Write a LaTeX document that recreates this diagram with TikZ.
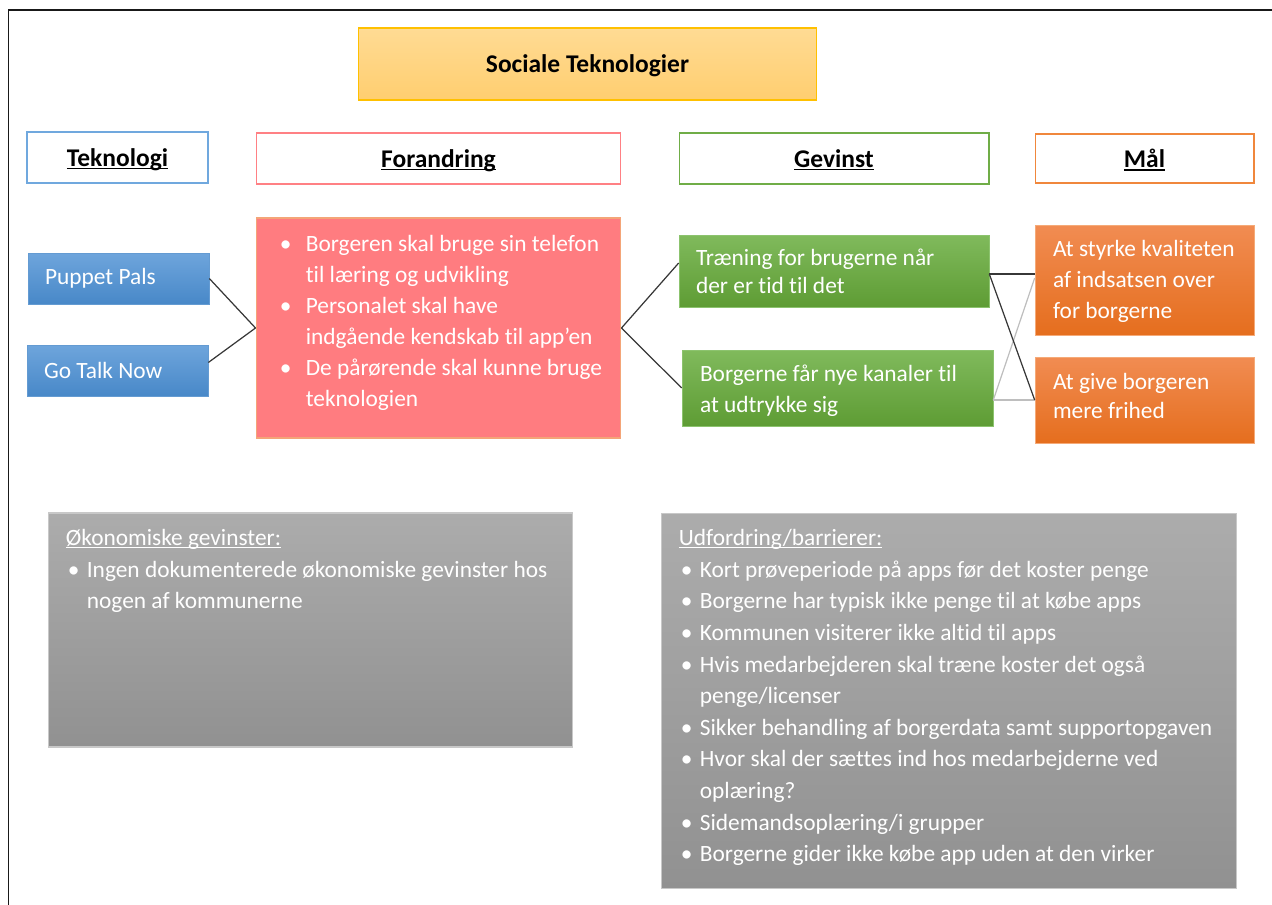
\documentclass[tikz,border=0pt]{standalone}
\usepackage{fontspec}
\setmainfont{Carlito}[Ligatures=NoCommon]
\usepackage{tikz}

\definecolor{titlebord}{RGB}{255,192,0}
\definecolor{titletop}{RGB}{255,219,148}
\definecolor{titlebot}{RGB}{255,206,112}
\definecolor{tekbord}{RGB}{112,168,222}
\definecolor{forbord}{RGB}{255,128,132}
\definecolor{gevbord}{RGB}{112,173,71}
\definecolor{malbord}{RGB}{240,135,60}
\definecolor{bluetop}{RGB}{110,165,220}
\definecolor{bluebot}{RGB}{72,136,200}
\definecolor{bluebord}{RGB}{100,155,210}
\definecolor{pinkfill}{RGB}{255,124,128}
\definecolor{pinkbord}{RGB}{244,165,120}
\definecolor{greentop}{RGB}{128,186,92}
\definecolor{greenbot}{RGB}{94,156,52}
\definecolor{greenbord}{RGB}{140,195,110}
\definecolor{orangetop}{RGB}{241,140,82}
\definecolor{orangebot}{RGB}{229,110,30}
\definecolor{orangebord}{RGB}{245,170,120}
\definecolor{graytop}{RGB}{172,172,172}
\definecolor{graybot}{RGB}{145,145,145}
\definecolor{graybord}{RGB}{200,200,200}
\definecolor{linkdark}{RGB}{55,55,55}
\definecolor{linklight}{RGB}{190,190,190}

\newsavebox{\ulboxa}
\newcommand{\ulbase}[1]{\sbox{\ulboxa}{#1}\rlap{\rule[-0.11em]{\wd\ulboxa}{0.055em}}\usebox{\ulboxa}}
\newcommand{\bulpt}{\makebox[0.52cm][l]{\textbullet}}
\newcommand{\bulind}{\hspace*{0.52cm}}
\newcommand{\graybul}{\makebox[0.42cm][l]{\hspace{0.04cm}\textbullet}}
\newcommand{\grayind}{\hspace*{0.42cm}}

\tikzset{
  headbox/.style={draw=#1, fill=white, line width=0.6pt, minimum height=1.02cm,
    text depth=0pt, font=\fontsize{14.5}{17}\selectfont\bfseries},
  titlebox/.style={draw=titlebord, top color=titletop, bottom color=titlebot,
    line width=0.6pt, minimum width=9.18cm, minimum height=1.44cm,
    text depth=0pt, font=\fontsize{14.5}{17}\selectfont\bfseries},
  bluebox/.style={draw=bluebord, top color=bluetop, bottom color=bluebot,
    line width=0.4pt, minimum width=3.62cm, minimum height=1.02cm},
  pinkbox/.style={draw=pinkbord, fill=pinkfill, line width=0.6pt},
  greenbox/.style={draw=greenbord, top color=greentop, bottom color=greenbot, line width=0.4pt},
  orangebox/.style={draw=orangebord, top color=orangetop, bottom color=orangebot,
    line width=0.4pt, minimum width=4.38cm},
  graybox/.style={draw=graybord, top color=graytop, bottom color=graybot, line width=0.6pt},
  bodytext/.style={text=white, align=left, inner sep=0pt,
    font=\fontsize{13.3}{17.6}\selectfont},
  graytext/.style={text=white, align=left, inner sep=0pt,
    font=\fontsize{13.3}{18}\selectfont},
  link/.style={draw=linkdark, line width=0.7pt},
  linkpale/.style={draw=linklight, line width=0.7pt}
}

\begin{document}
\begin{tikzpicture}[x=0.02cm, y=-0.02cm]
\useasboundingbox (0,0) rectangle (1272,905);
\draw[line width=1.1pt, black!90] (8.5,905) -- (8.5,10) -- (1272,10);

%%------------ title and headers
\node[titlebox] (title) at (587.5,64) {Sociale Teknologier};
\node[headbox=tekbord, minimum width=3.62cm] (tek) at (117.5,157.5) {\ulbase{Teknologi}};
\node[headbox=forbord, minimum width=7.3cm] (for) at (438.5,158.5) {\ulbase{Forandring}};
\node[headbox=gevbord, minimum width=6.2cm] (gev) at (834,158.5) {\ulbase{Gevinst}};
\node[headbox=malbord, minimum width=4.38cm, minimum height=0.98cm] (mal) at (1144.5,158.5) {\ulbase{Mål}};

%%------------ technologies
\node[bluebox] (pp) at (118.5,278.5) {};
\node[bodytext, anchor=west] (pptext) at ([xshift=0.34cm]pp.west) {Puppet Pals};
\node[bluebox] (gtn) at (117.5,370.5) {};
\node[bodytext, anchor=west] (gtntext) at ([xshift=0.34cm]gtn.west) {Go Talk Now};

%%------------ changes
\node[pinkbox, minimum width=7.3cm, minimum height=4.4cm] (fb) at (438.5,328) {};
\node[bodytext, anchor=west] (fbtext) at ([xshift=0.48cm, yshift=0.1cm]fb.west)
  {\bulpt Borgeren skal bruge sin telefon\\
   \bulind til læring og udvikling\\
   \bulpt Personalet skal have\\
   \bulind indgående kendskab til app’en\\
   \bulpt De pårørende skal kunne bruge\\
   \bulind teknologien};

%%------------ gains
\node[greenbox, minimum width=6.2cm, minimum height=1.44cm] (g1) at (834,271) {};
\node[bodytext, anchor=west, font=\fontsize{13.3}{16}\selectfont] (g1text) at ([xshift=0.34cm]g1.west)
  {Træning for brugerne når\\ der er tid til det};
\node[greenbox, minimum width=6.22cm, minimum height=1.52cm] (g2) at (837.5,388) {};
\node[bodytext, anchor=west] (g2text) at ([xshift=0.36cm, yshift=-0.06cm]g2.west)
  {Borgerne får nye kanaler til\\ at udtrykke sig};

%%------------ goals
\node[orangebox, minimum height=2.2cm] (o1) at (1144.5,280) {};
\node[bodytext, anchor=west] (o1text) at ([xshift=0.36cm, yshift=-0.03cm]o1.west)
  {At styrke kvaliteten\\ af indsatsen over\\ for borgerne};
\node[orangebox, minimum height=1.72cm] (o2) at (1144.5,400) {};
\node[bodytext, anchor=west, font=\fontsize{13.3}{16.6}\selectfont] (o2text) at ([xshift=0.36cm, yshift=0.08cm]o2.west)
  {At give borgeren\\ mere frihed};

%%------------ links
\draw[link] (pp.east) -- (fb.west);
\draw[link] ([yshift=0.16cm]gtn.east) -- (fb.west);
\draw[link] (fb.east) -- ([yshift=0.16cm]g1.west);
\draw[link] (fb.east) -- (g2.west);
\draw[linkpale] (o2.west -| g2.east) -- (o2.west);
\draw[linkpale] (o2.west -| g2.east) -- ([yshift=0.04cm]o1.west);
\draw[link] ([yshift=-0.06cm]g1.east) -- ([yshift=-0.06cm]g1.east -| o1.west);
\draw[link] ([yshift=-0.06cm]g1.east) -- (o2.west);

%%------------ bottom boxes
\node[graybox, minimum width=10.5cm, minimum height=4.68cm] (ok) at (310.5,630) {};
\node[graytext, anchor=north west] (oktext) at ([xshift=0.36cm, yshift=-0.33cm]ok.north west)
  {\ulbase{Økonomiske gevinster:}\\
   \graybul Ingen dokumenterede økonomiske gevinster hos\\
   \grayind nogen af kommunerne};
\node[graybox, minimum width=11.52cm, minimum height=7.52cm] (ud) at (949,701) {};
\node[graytext, anchor=north west] (udtext) at ([xshift=0.36cm, yshift=-0.33cm]ud.north west)
  {\ulbase{Udfordring/barrierer:}\\
   \graybul Kort prøveperiode på apps før det koster penge\\
   \graybul Borgerne har typisk ikke penge til at købe apps\\
   \graybul Kommunen visiterer ikke altid til apps\\
   \graybul Hvis medarbejderen skal træne koster det også\\
   \grayind penge/licenser\\
   \graybul Sikker behandling af borgerdata samt supportopgaven\\
   \graybul Hvor skal der sættes ind hos medarbejderne ved\\
   \grayind oplæring?\\
   \graybul Sidemandsoplæring/i grupper\\
   \graybul Borgerne gider ikke købe app uden at den virker};
\end{tikzpicture}
\end{document}
